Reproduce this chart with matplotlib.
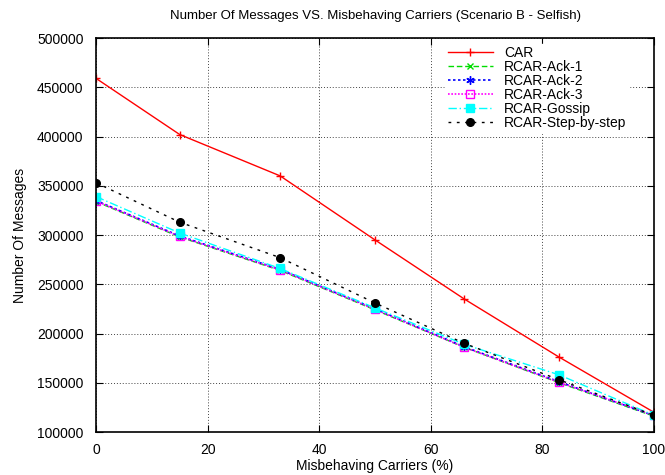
import matplotlib
matplotlib.use("Agg")
import matplotlib.pyplot as plt

plt.rcParams["font.family"] = ["Liberation Sans", "DejaVu Sans"]
plt.rcParams["font.size"] = 10

# misbehaving carriers (%)
carriers = [0, 15, 33, 50, 66, 83, 100]

# number of messages per protocol
car = [459000, 402000, 360000, 295000, 235000, 176000, 120000]
ack1 = [334000, 298000, 264000, 224000, 186000, 150000, 116000]
ack2 = [335000, 299000, 265000, 225000, 186500, 151000, 116500]
ack3 = [334500, 298500, 264500, 224500, 186000, 150500, 117000]
gossip = [339000, 302000, 266000, 226000, 189000, 158000, 117000]
step = [353000, 313000, 277000, 231000, 190000, 153000, 117000]

fig = plt.figure(figsize=(6.65, 4.75), dpi=100)
ax = fig.add_axes([0.1444, 0.0905, 0.8391, 0.8295])

ax.plot(carriers, car, color="red", lw=1, marker="+", ms=6, mew=1, label="CAR")
ax.plot(carriers, ack1, color="#00dd00", lw=1, ls=(0, (4, 2)), marker="x", ms=5, mew=1, label="RCAR-Ack-1")
ax.plot(carriers, ack2, color="blue", lw=1.2, ls=(0, (1.5, 1.5)), marker=(6, 2, 0), ms=6, mew=1, label="RCAR-Ack-2")
ax.plot(carriers, ack3, color="#ff00ff", lw=1.2, ls=(0, (1, 1)), marker="s", ms=6, mfc="none", mew=1, label="RCAR-Ack-3")
ax.plot(carriers, gossip, color="cyan", lw=1, ls=(0, (6, 2, 1, 2)), marker="s", ms=5.5, label="RCAR-Gossip")
ax.plot(carriers, step, color="black", lw=1, ls=(0, (2, 4)), marker="o", ms=5.5, label="RCAR-Step-by-step")

ax.set_xlim(0, 100)
ax.set_ylim(100000, 500000)
ax.set_xticks(range(0, 101, 20))
ax.set_yticks(range(100000, 500001, 50000))
ax.grid(True, color="#444444", ls=(0, (1, 2)), lw=0.7)
ax.tick_params(direction="in", top=True, right=True, length=5)
ax.tick_params(axis="y", pad=9)
ax.tick_params(axis="x", pad=8)
for s in ax.spines.values():
    s.set_linewidth(1.2)

ax.set_title("Number Of Messages VS. Misbehaving Carriers (Scenario B - Selfish)", fontsize=9.5, pad=14)
ax.set_xlabel("Misbehaving Carriers (%)", labelpad=1)
ax.set_ylabel("Number Of Messages", labelpad=7)

leg = ax.legend(loc="upper right", bbox_to_anchor=(0.965, 1.0), frameon=True, fancybox=False,
                handlelength=3.2, borderpad=0.2, labelspacing=0.0, fontsize=10, borderaxespad=0.4)
leg.get_frame().set_edgecolor("white")
leg.get_frame().set_facecolor("white")
leg.get_frame().set_alpha(1)

fig.savefig("out.png", dpi=100)
